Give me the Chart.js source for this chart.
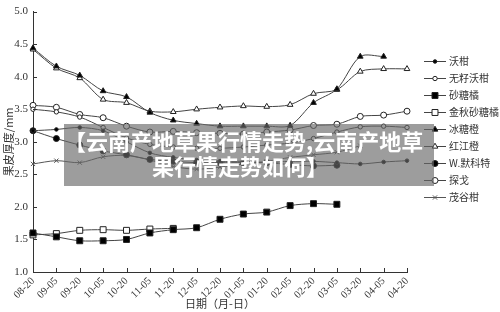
<!DOCTYPE html>
<html>
<head>
<meta charset="utf-8">
<script src="https://cdn.jsdelivr.net/npm/chart.js@4.4.1/dist/chart.umd.min.js"></script>
<style>
  html, body { margin: 0; padding: 0; background: #fff; }
  #wrap { position: relative; width: 500px; height: 312px; }
  #banner {
    position: absolute; left: 64px; top: 124px;
    width: 352px; height: 58.5px; padding: 3.5px 18px 0 0;
    background: rgba(105, 105, 105, 0.65); color: #fff;
    font: bold 22px/25px "Noto Sans CJK SC", sans-serif;
    text-align: center; white-space: nowrap;
  }
</style>
</head>
<body>
<div id="wrap">
  <canvas id="peelChart" width="500" height="312"></canvas>
  <div id="banner">【云南产地草果行情走势,云南产地草<br>果行情走势如何】</div>
</div>
<script>
// dates (month-day)
const dates = ['08-20', '09-05', '09-20', '10-05', '10-20', '11-05', '11-20', '12-05', '12-20',
  '01-05', '01-20', '02-05', '02-20', '03-05', '03-20', '04-05', '04-20'];

// peel thickness (mm) per variety
const wogan      = [3.17, 3.19, 3.22, 3.17, 3.00, 2.83, 2.76, 2.72, 2.70, 2.70, 2.68, 2.70, 2.70, 2.68, 2.66, 2.69, 2.71];
const wuziWogan  = [3.50, 3.46, 3.38, 3.22, 3.06, 2.96, 2.92, 2.90, 2.90, 2.92, 2.95, 2.98, 3.05, 3.15, 3.23, 3.24, 3.22];
const shatangju  = [1.60, 1.54, 1.48, 1.48, 1.50, 1.60, 1.65, 1.68, 1.81, 1.89, 1.92, 2.02, 2.05, 2.04, null, null, null];
const jinqiu     = [1.57, 1.59, 1.64, 1.65, 1.64, 1.66, 1.67, null, null, null, null, null, null, null, null, null, null];
const bingtang   = [4.44, 4.16, 4.02, 3.78, 3.69, 3.45, 3.33, 3.28, 3.24, 3.24, 3.24, 3.25, 3.60, 3.81, 4.31, 4.31, null];
const hongjiang  = [4.42, 4.13, 3.98, 3.65, 3.60, 3.47, 3.46, 3.50, 3.53, 3.55, 3.54, 3.57, 3.74, 3.80, 4.08, 4.12, 4.12];
const murcott    = [3.17, 3.05, 2.95, 2.86, 2.80, 2.73, 2.70, 2.68, 2.68, 2.68, 2.68, 2.65, 2.63, 2.64, null, null, null];
const tango      = [3.56, 3.53, 3.42, 3.37, 3.24, 3.15, 3.16, 3.14, 3.13, 3.12, 3.15, 3.18, 3.25, 3.27, 3.39, 3.41, 3.47];
const maogu      = [2.66, 2.71, 2.68, 2.77, 2.79, 2.72, 2.62, 2.58, 2.61, 2.66, 2.70, 2.76, 2.80, 2.84, 2.94, null, null];

const yTicks = [1.0, 1.5, 2.0, 2.5, 3.0, 3.5, 4.0, 4.5, 5.0];

function series(label, data, style, radius, fill, color) {
  return {
    label: label,
    data: data,
    borderColor: color || '#444',
    borderWidth: 1,
    tension: 0.3,
    pointStyle: style,
    pointRadius: radius,
    pointBorderWidth: 1,
    pointBorderColor: color || '#222',
    pointBackgroundColor: fill,
    spanGaps: false
  };
}

const datasets = [
  series('沃柑', wogan, 'circle', 1.8, '#000'),
  series('无籽沃柑', wuziWogan, 'circle', 2.2, '#fff'),
  series('砂糖橘', shatangju, 'rect', 4.2, '#000'),
  series('金秋砂糖橘', jinqiu, 'rect', 4.2, '#fff'),
  series('冰糖橙', bingtang, 'triangle', 3.3, '#000'),
  series('红江橙', hongjiang, 'triangle', 3.3, '#fff'),
  series('W.默科特', murcott, 'circle', 3, '#000'),
  series('探戈', tango, 'circle', 3, '#fff'),
  series('茂谷柑', maogu, 'crossRot', 3, '#fff', '#555')
];

function drawMarker(ctx, style, r, x, y, fill) {
  ctx.beginPath();
  if (style === 'circle') {
    ctx.arc(x, y, r, 0, Math.PI * 2);
  } else if (style === 'rect') {
    const s = Math.SQRT1_2 * r;
    ctx.rect(x - s, y - s, 2 * s, 2 * s);
  } else if (style === 'triangle') {
    let a = 0;
    ctx.moveTo(x + Math.sin(a) * r, y - Math.cos(a) * r);
    a += Math.PI * 2 / 3;
    ctx.lineTo(x + Math.sin(a) * r, y - Math.cos(a) * r);
    a += Math.PI * 2 / 3;
    ctx.lineTo(x + Math.sin(a) * r, y - Math.cos(a) * r);
    ctx.closePath();
  } else if (style === 'crossRot') {
    const d = Math.SQRT1_2 * r;
    ctx.moveTo(x - d, y - d); ctx.lineTo(x + d, y + d);
    ctx.moveTo(x - d, y + d); ctx.lineTo(x + d, y - d);
  }
  if (style !== 'crossRot') {
    ctx.fillStyle = fill;
    ctx.fill();
  }
  ctx.stroke();
}

// ticks pointing into the plot, like the printed figure
const innerTicks = {
  id: 'innerTicks',
  afterDraw(chart) {
    const ctx = chart.ctx, area = chart.chartArea;
    const xs = chart.scales.x, ys = chart.scales.y;
    ctx.save();
    ctx.strokeStyle = '#333';
    ctx.lineWidth = 1;
    ctx.beginPath();
    ys.ticks.forEach(function(t, i) {
      const py = Math.round(ys.getPixelForTick(i)) + 0.5;
      ctx.moveTo(area.left, py);
      ctx.lineTo(area.left + 4, py);
    });
    xs.ticks.forEach(function(t, i) {
      const px = Math.round(xs.getPixelForTick(i)) + 0.5;
      ctx.moveTo(px, area.bottom);
      ctx.lineTo(px, area.bottom - 4);
    });
    ctx.stroke();
    ctx.restore();
  }
};

// legend on the right: short line + marker + name
const sideLegend = {
  id: 'sideLegend',
  afterDraw(chart) {
    const ctx = chart.ctx;
    ctx.save();
    ctx.font = '10px "Noto Sans CJK SC", sans-serif';
    ctx.textBaseline = 'middle';
    chart.data.datasets.forEach(function(ds, i) {
      const y = 61 + i * 17;
      ctx.strokeStyle = ds.borderColor;
      ctx.lineWidth = 1;
      ctx.beginPath();
      ctx.moveTo(424, y + 0.5);
      ctx.lineTo(446, y + 0.5);
      ctx.stroke();
      ctx.strokeStyle = ds.pointBorderColor;
      drawMarker(ctx, ds.pointStyle, ds.pointRadius, 435, y + 0.5, ds.pointBackgroundColor);
      ctx.fillStyle = '#333';
      ctx.fillText(ds.label, 449, y);
    });
    ctx.restore();
  }
};

const canvas = document.getElementById('peelChart');
new Chart(canvas, {
  type: 'line',
  data: {
    labels: dates,
    datasets: datasets
  },
  options: {
    responsive: false,
    animation: false,
    layout: { padding: { top: 6, right: 93, left: 0, bottom: 0 } },
    plugins: {
      legend: { display: false },
      tooltip: { enabled: false }
    },
    scales: {
      x: {
        offset: false,
        grid: { display: false, drawTicks: false },
        border: { display: true, color: '#333' },
        ticks: {
          color: '#333',
          font: { family: '"Liberation Serif", serif', size: 10.5 },
          maxRotation: 45,
          minRotation: 45,
          autoSkip: false,
          padding: 3
        },
        title: {
          display: true,
          text: '日期（月-日）',
          color: '#333',
          font: { family: '"Noto Sans CJK SC", sans-serif', size: 11 },
          padding: { top: 0, bottom: 2 }
        },
        afterFit: function(scale) { scale.height = 40; }
      },
      y: {
        min: 1,
        max: 5,
        afterBuildTicks: function(scale) {
          scale.ticks = yTicks.map(function(v) { return { value: v }; });
        },
        grid: { display: false, drawTicks: false },
        border: { display: true, color: '#333' },
        ticks: {
          color: '#333',
          font: { family: '"Liberation Serif", serif', size: 11 },
          padding: 5,
          callback: function(v) { return Number(v).toFixed(1); }
        },
        title: {
          display: true,
          text: '果皮厚度/mm',
          color: '#333',
          font: { family: '"Noto Sans CJK SC", sans-serif', size: 11 },
          padding: { top: 2, bottom: 0 }
        },
        afterFit: function(scale) { scale.width = 33; }
      }
    }
  },
  plugins: [innerTicks, sideLegend]
});
</script>
</body>
</html>
